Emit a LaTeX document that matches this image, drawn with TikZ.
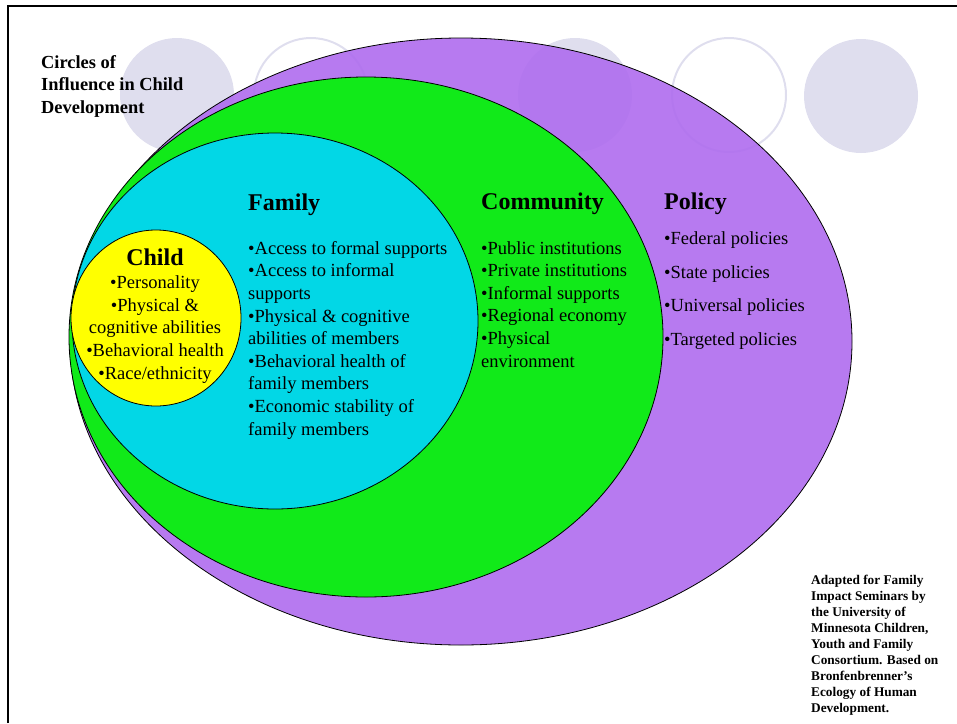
\documentclass[tikz,border=0pt]{standalone}
\usepackage{fontspec}
\setmainfont{Liberation Serif}
\definecolor{policycol}{RGB}{175,108,238}
\definecolor{communitycol}{RGB}{17,234,25}
\definecolor{familycol}{RGB}{2,215,230}
\definecolor{childcol}{RGB}{255,255,0}
\definecolor{decocol}{RGB}{223,222,238}

\begin{document}
\begin{tikzpicture}[x=1pt, y=-1pt,
    ring/.style = {draw=black, line width=0.8pt},
    deco/.style = {fill=decocol, draw=none},
    decoring/.style = {draw=decocol, line width=2pt},
    heading/.style = {font=\bfseries\fontsize{24}{28}\selectfont, inner sep=0pt, anchor=base west},
    items/.style = {font=\fontsize{18.5}{22.6}\selectfont, inner sep=0pt, anchor=base west, align=left}]
            \useasboundingbox (0,0) rectangle (957,723);
            \draw[line width=2pt] (7.5,723) -- (7.5,6) -- (957,6);
            
            % decorative circles at the top
            \fill[deco] (177,95) circle(57);
            \draw[decoring] (311,95) circle(57);
            \fill[deco] (575,95) circle(57);
            \draw[decoring] (729,95) circle(57);
            \fill[deco] (861,96) circle(57);
            
            % the circles of influence
            \draw[ring, fill=policycol, fill opacity=0.9] (461,341.5) ellipse(391 and 303.5);
            \draw[ring, fill=communitycol] (366,337) ellipse(297 and 260);
            \draw[ring, fill=familycol] (275,321) ellipse(203 and 188);
            \draw[ring, fill=childcol] (156,318) ellipse(85 and 88);
            
            % multi-line nodes sit on the baseline of their last line
            \node[heading, font=\bfseries\fontsize{18.4}{22.2}\selectfont, align=left] (title) at (41,113)
                {Circles of\\Influence in Child\\Development};
            
            \node[heading, anchor=base] (child) at (155,265) {Child};
            \node[items, anchor=base, align=center] (childlist) at (155,379)
                {•Personality\\•Physical \&\\cognitive abilities\\•Behavioral health\\•Race/ethnicity};
            
            \node[heading] (family) at (248,210) {Family};
            \node[items] (familylist) at (248,435)
                {•Access to formal supports\\•Access to informal\\supports\\•Physical \& cognitive\\abilities of members\\•Behavioral health of\\family members\\•Economic stability of\\family members};
            
            \node[heading] (community) at (481,209) {Community};
            \node[items] (communitylist) at (481,367)
                {•Public institutions\\•Private institutions\\•Informal supports\\•Regional economy\\•Physical\\environment};
            
            \node[heading] (policy) at (664,209) {Policy};
            \node[items, font=\fontsize{18.5}{33.4}\selectfont] (policylist) at (664,345)
                {•Federal policies\\•State policies\\•Universal policies\\•Targeted policies};
            
            \node[items, font=\bfseries\fontsize{13.3}{16}\selectfont] (credit) at (811,712)
                {Adapted for Family\\Impact Seminars by\\the University of\\Minnesota Children,\\Youth and Family\\Consortium. Based on\\Bronfenbrenner’s\\Ecology of Human\\Development.};
        \end{tikzpicture}
\end{document}
